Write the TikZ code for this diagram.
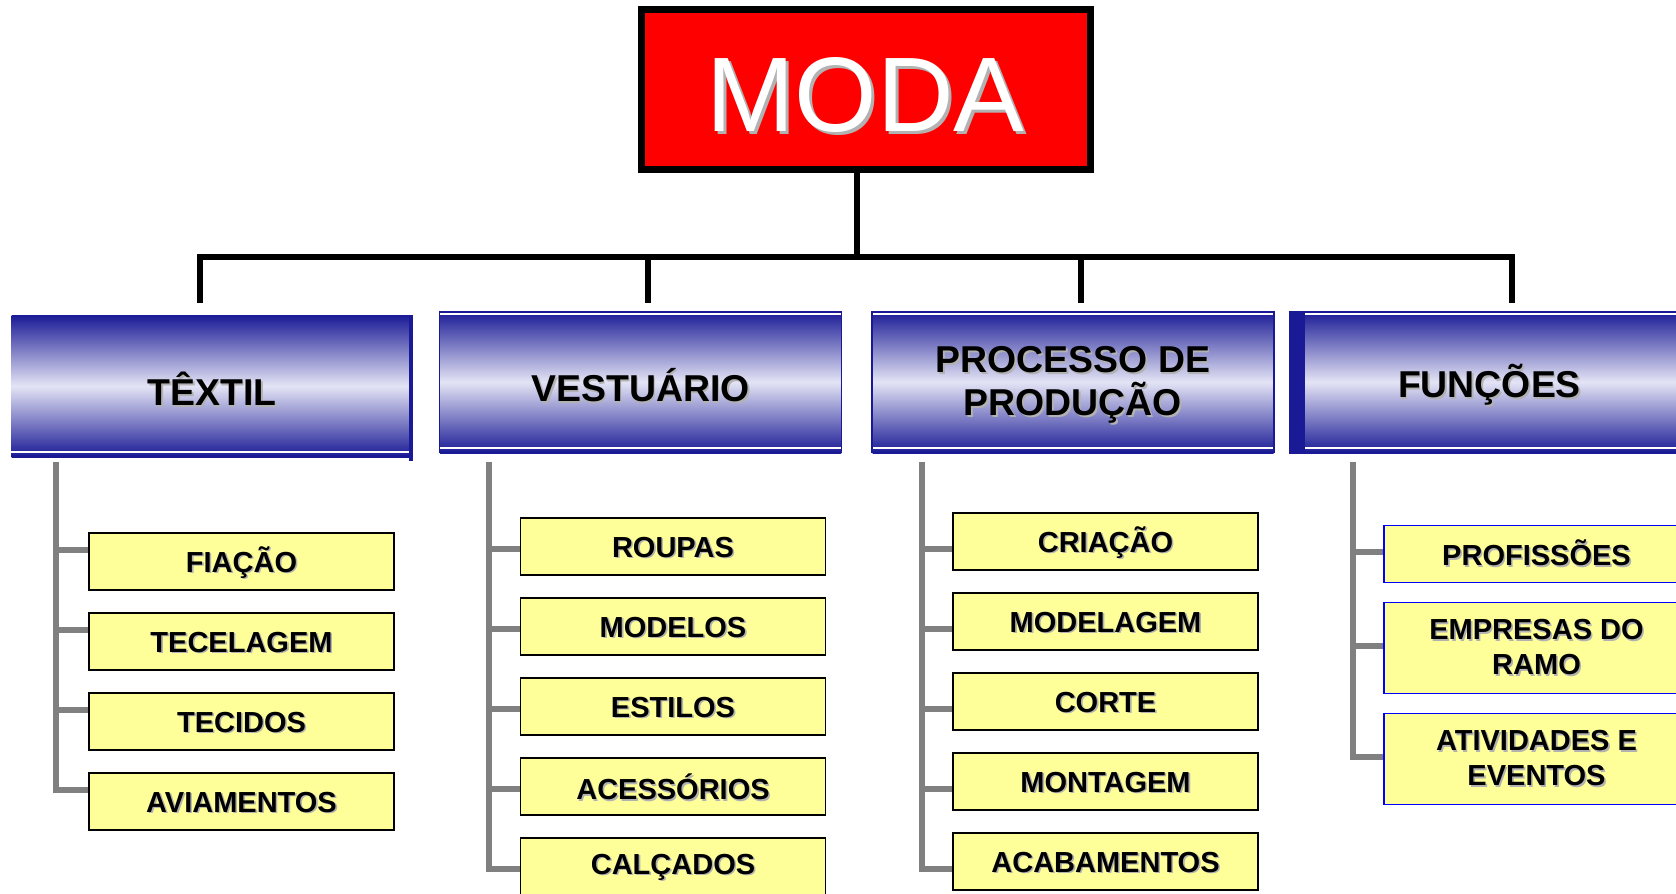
\documentclass[tikz,border=0pt]{standalone}
\usepackage{fontspec}
\setmainfont{Liberation Sans}
\usetikzlibrary{positioning}

\definecolor{modared}{RGB}{255,0,0}
\definecolor{navy}{RGB}{26,26,150}
\definecolor{lavender}{RGB}{228,228,245}
\definecolor{itemyellow}{RGB}{255,255,153}
\definecolor{twiggray}{RGB}{128,128,128}

\newcommand{\shddrop}{0pt}
\newcommand{\shd}[2][0.8pt]{\raisebox{-\shddrop}[\height][\depth]{\rlap{\kern#1\raisebox{-#1}{\textcolor{black!30}{#2}}}#2}}

\begin{document}
\begin{tikzpicture}[
  x=0.5pt, y=-0.5pt,
  node distance=10.75pt,
  rootbox/.style={rectangle, draw=black, line width=3.5pt, fill=modared, minimum width=224.5pt, minimum height=80pt, inner sep=0pt, text=white, font=\fontsize{53}{53}\selectfont, execute at begin node={\def\shddrop{4pt}}},
  headbox/.style={rectangle, minimum width=200.5pt, minimum height=71pt, inner sep=0pt, top color=navy, bottom color=navy, middle color=lavender, align=center, font=\bfseries\fontsize{18.7}{21.5}\selectfont, execute at begin node={\def\shddrop{2pt}}},
  itembox/.style={rectangle, draw=black, line width=0.75pt, fill=itemyellow, minimum width=152.5pt, minimum height=28.5pt, inner sep=0pt, align=center, font=\bfseries\fontsize{14.5}{17.5}\selectfont, execute at begin node={\def\shddrop{0.75pt}}},
  bluebox/.style={itembox, draw=blue, execute at begin node={\def\shddrop{0pt}}},
  widebox/.style={bluebox, minimum height=45.5pt},
  bus/.style={line width=3pt, black},
  twig/.style={line width=2.6pt, twiggray},
  rim/.style={line width=1pt, navy}
]
\useasboundingbox (0,0) rectangle (1676,894);
\clip (0,0) rectangle (1676,894);

\node[rootbox] (moda) at (865.5,89) {\shd[1.5pt]{MODA}};

\node[headbox] (tex) at (212,386) {\shd{TÊXTIL}};
\node[headbox] (ves) at (640.5,382) {\shd{VESTUÁRIO}};
\node[headbox] (pro) at (1073,382) {\shd{PROCESSO DE}\\\shd{PRODUÇÃO}};
\node[headbox] (fun) at (1489.5,382) {\shd{FUNÇÕES}};

\foreach \h in {tex,ves,pro,fun}{
  \draw[rim, white] ([yshift=2.5pt]\h.south west) -- ([yshift=2.5pt]\h.south east);
  \draw[rim] ([yshift=0.75pt]\h.south west) -- ([yshift=0.75pt]\h.south east);
}
\foreach \h in {ves,pro,fun}{
  \draw[rim] ([yshift=-0.5pt]\h.north west) -- ([yshift=-0.5pt]\h.north east);
  \draw[rim, white] ([yshift=-1.75pt]\h.north west) -- ([yshift=-1.75pt]\h.north east);
}
\foreach \h in {ves,pro}
  \draw[rim, line width=0.75pt] (\h.north west) -- (\h.south west) (\h.north east) -- (\h.south east);
\fill[navy] ([xshift=-2pt]tex.north east) rectangle ([yshift=-2pt]tex.south east);
\fill[navy] (fun.north west) rectangle ([xshift=8pt]fun.south west);

\coordinate (hub) at (857,257);
\coordinate (d1) at (200,303);
\coordinate (d2) at (648,303);
\coordinate (d3) at (1081,303);
\coordinate (d4) at (1512,303);
\draw[bus] (moda.south -| hub) -- (hub);
\draw[bus] (d1) |- (hub) -| (d4);
\draw[bus] (d2 |- hub) -- (d2);
\draw[bus] (d3 |- hub) -- (d3);

\node[itembox] (fia) at (241.5,561.5) {\shd{FIAÇÃO}};
\node[itembox, below=of fia] (tcl) {\shd{TECELAGEM}};
\node[itembox, below=of tcl] (tcd) {\shd{TECIDOS}};
\node[itembox, below=of tcd] (avi) {\shd{AVIAMENTOS}};

\node[itembox] (rou) at (673,546.5) {\shd{ROUPAS}};
\node[itembox, below=of rou] (mod) {\shd{MODELOS}};
\node[itembox, below=of mod] (est) {\shd{ESTILOS}};
\node[itembox, below=of est] (ace) {\shd{ACESSÓRIOS}};
\node[itembox, below=of ace] (cal) {\shd{CALÇADOS}};

\node[itembox] (cri) at (1105.5,541.5) {\shd{CRIAÇÃO}};
\node[itembox, below=of cri] (mdl) {\shd{MODELAGEM}};
\node[itembox, below=of mdl] (cor) {\shd{CORTE}};
\node[itembox, below=of cor] (mon) {\shd{MONTAGEM}};
\node[itembox, below=of mon] (aca) {\shd{ACABAMENTOS}};

\node[bluebox] (prf) at (1536.5,554) {\shd{PROFISSÕES}};
\node[widebox, below=9.25pt of prf] (emp) {\shd{EMPRESAS DO}\\\shd{RAMO}};
\node[widebox, below=9.25pt of emp] (ati) {\shd{ATIVIDADES E}\\\shd{EVENTOS}};

\coordinate (tex-root) at (56,462);
\coordinate (ves-root) at (489,462);
\coordinate (pro-root) at (922,462);
\coordinate (fun-root) at (1353,462);

\draw[twig] (tex-root) |- ([yshift=5.75pt]avi.west);
\foreach \n in {fia,tcl,tcd}
  \draw[twig] ([yshift=5.75pt]\n.west -| tex-root) -- ([yshift=5.75pt]\n.west);

\draw[twig] (ves-root) |- ([yshift=-1.25pt]cal.west);
\foreach \n in {rou,mod,est,ace}
  \draw[twig] ([yshift=-1.25pt]\n.west -| ves-root) -- ([yshift=-1.25pt]\n.west);

\draw[twig] (pro-root) |- ([yshift=-3.75pt]aca.west);
\foreach \n in {cri,mdl,cor,mon}
  \draw[twig] ([yshift=-3.75pt]\n.west -| pro-root) -- ([yshift=-3.75pt]\n.west);

\draw[twig] (fun-root) |- ([yshift=1pt]ati.west);
\foreach \n in {prf,emp}
  \draw[twig] ([yshift=1pt]\n.west -| fun-root) -- ([yshift=1pt]\n.west);

\end{tikzpicture}
\end{document}
